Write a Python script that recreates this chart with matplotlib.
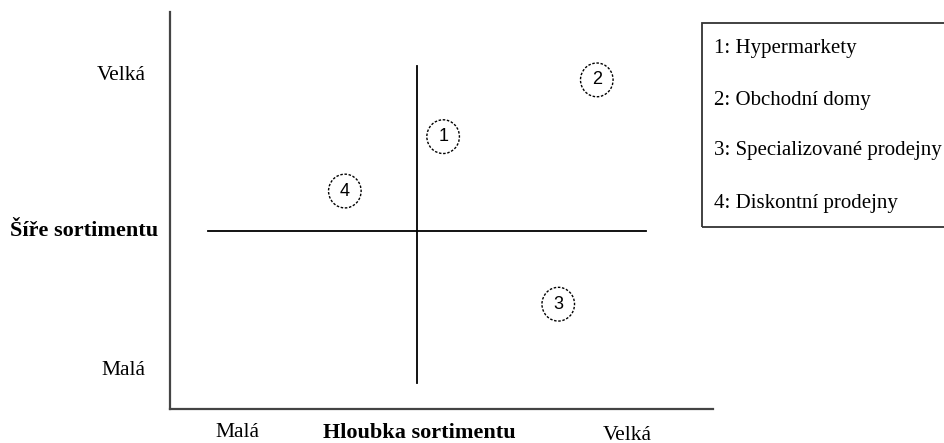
import matplotlib.pyplot as plt
from matplotlib.patches import Ellipse, Rectangle

# Positions of the four store types in the depth (x) / width (y) grid, 0..10 scale
store_ids = ['1', '2', '3', '4']
store_names = ['Hypermarkety', 'Obchodní domy', 'Specializované prodejny', 'Diskontní prodejny']
depth = [5.03, 7.86, 7.15, 3.22]
width = [6.86, 8.29, 2.64, 5.49]

# quadrant cross
cross_x = 4.55
cross_y = 4.48
cross_x_span = [0.70, 8.77]
cross_y_span = [0.65, 8.64]

y_labels = ['Velká', 'Malá']
y_label_pos = [8.41, 0.96]
x_labels = ['Malá', 'Velká']
x_label_pos = [1.25, 8.42]

serif = 'Liberation Serif'

fig = plt.figure(figsize=(9.45, 4.43), dpi=100)
ax = fig.add_axes([170 / 945, 34 / 443, 543 / 945, 397 / 443])
ax.set_xlim(0, 10)
ax.set_ylim(0, 10)
for s in ['top', 'right']:
    ax.spines[s].set_visible(False)
for s in ['left', 'bottom']:
    ax.spines[s].set_color('#444444')
    ax.spines[s].set_linewidth(1.6)
ax.set_xticks([])
ax.set_yticks([])

# cross lines
ax.plot([cross_x, cross_x], cross_y_span, color='black', lw=1.3)
ax.plot(cross_x_span, [cross_y, cross_y], color='black', lw=1.3)

# dashed circles with numbers
for sid, x, y in zip(store_ids, depth, width):
    ax.add_patch(Ellipse((x, y), 0.60, 0.85, fill=False, edgecolor='black',
                         lw=1.0, linestyle=(0, (1.8, 1.2))))
    ax.text(x, y, sid, ha='center', va='center', fontsize=13,
            family='Liberation Sans')

# axis texts
for lab, y in zip(y_labels, y_label_pos):
    ax.text(-0.45, y, lab, ha='right', va='center', fontsize=15.5,
            family=serif, clip_on=False)
ax.text(-0.22, cross_y, 'Šíře sortimentu', ha='right', va='center',
        fontsize=16, fontweight='bold', family=serif, clip_on=False)
ax.text(x_label_pos[0], -0.6, x_labels[0], ha='center', va='center',
        fontsize=15.5, family=serif, clip_on=False)
ax.text(x_label_pos[1], -0.66, x_labels[1], ha='center', va='center',
        fontsize=15.5, family=serif, clip_on=False)
ax.text(4.59, -0.6, 'Hloubka sortimentu', ha='center', va='center',
        fontsize=16, fontweight='bold', family=serif, clip_on=False)

# legend box (runs off the right edge like the original)
fig.patches.append(Rectangle((702 / 945, (443 - 227) / 443), 260 / 945, 204.5 / 443,
                             transform=fig.transFigure, fill=False,
                             edgecolor='#333333', lw=1.3))
legend_y = [49, 100, 151, 203]
for sid, name, py in zip(store_ids, store_names, legend_y):
    fig.text(714 / 945, 1 - py / 443, f'{sid}: {name}', ha='left', va='center',
             fontsize=15, family=serif)

fig.savefig('out.png', dpi=100)
